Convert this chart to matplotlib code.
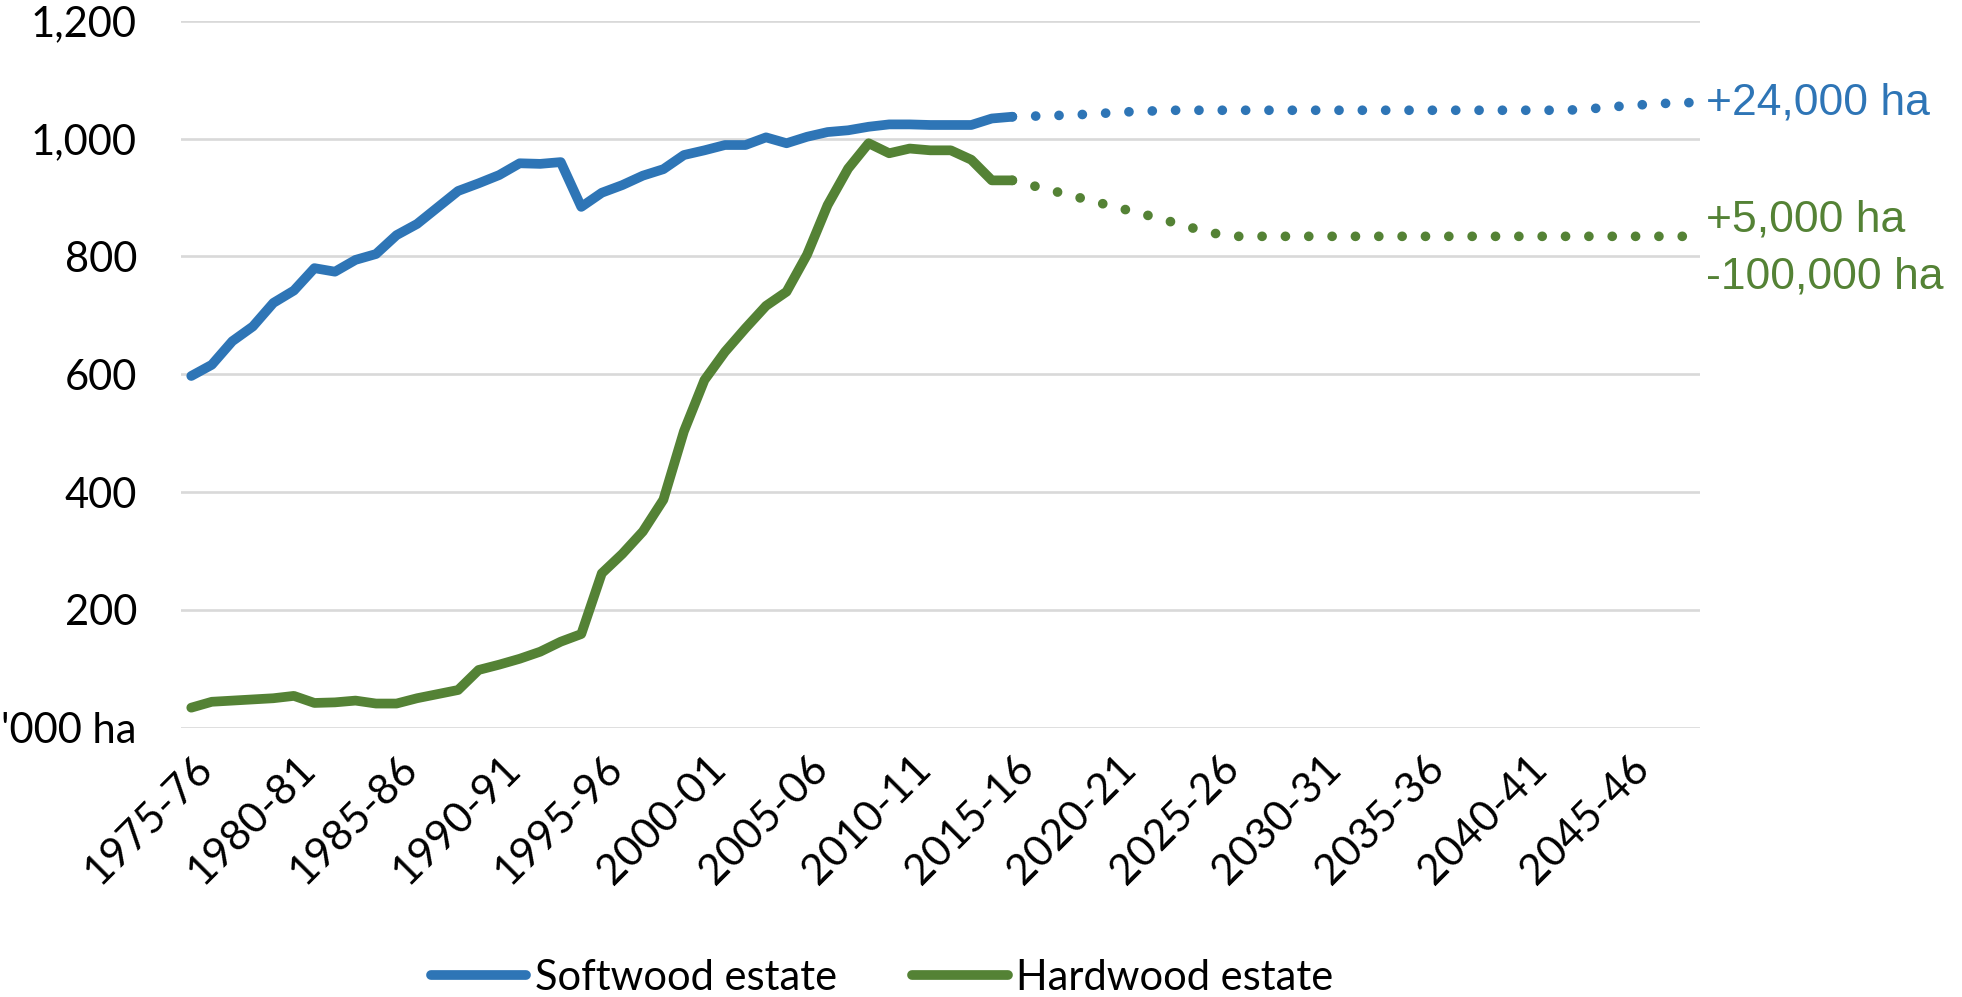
import matplotlib
matplotlib.use("Agg")
import matplotlib.pyplot as plt
import matplotlib.transforms as mtransforms
import numpy as np

# financial years 1975-76 .. 2048-49
years = list(range(1975, 2049))
categories = [f"{y}-{(y + 1) % 100:02d}" for y in years]

# '000 ha, actuals 1975-76 .. 2015-16
softwood = [597, 616, 656, 681, 721, 742, 780, 774, 794, 804,
            836, 855, 883, 911, 924, 938, 958, 957, 960, 884,
            908, 921, 937, 948, 972, 980, 989, 989, 1002, 992,
            1003, 1011, 1014, 1020, 1024, 1024, 1023, 1023, 1023, 1034,
            1037]
hardwood = [34, 44, 46, 48, 50, 54, 42, 43, 46, 41,
            41, 50, 57, 64, 98, 107, 117, 129, 146, 159,
            262, 295, 333, 387, 503, 590, 638, 678, 716, 740,
            803, 887, 949, 992, 975, 983, 980, 980, 964, 929,
            929]

# projections 2015-16 .. 2048-49
softwood_proj = [1037, 1038, 1039, 1040, 1042, 1044, 1046, 1047, 1048, 1048,
                 1048, 1048, 1048, 1048, 1048, 1048, 1048, 1048, 1048, 1048,
                 1048, 1048, 1048, 1048, 1048, 1048, 1048, 1048, 1050, 1053,
                 1056, 1058, 1060, 1061]
hardwood_proj = [929, 920, 911, 902, 893, 884, 875, 866, 856, 846,
                 838, 834, 834, 834, 834, 834, 834, 834, 834, 834,
                 834, 834, 834, 834, 834, 834, 834, 834, 834, 834,
                 834, 834, 834, 834]

ytick_vals = [0, 200, 400, 600, 800, 1000, 1200]
ytick_labels = ["'000 ha", "200", "400", "600", "800", "1,000", "1,200"]

BLUE = "#2E75B6"
GREEN = "#548235"
TICK_FONT = "Lato"
NOTE_FONT = "Liberation Sans"

fig = plt.figure(figsize=(19.62, 9.97), dpi=100)
ax = fig.add_axes([181 / 1962, 1 - 727.7 / 997, (1700 - 181) / 1962, (727.7 - 20.7) / 997])

x_act = np.arange(len(softwood))
x_proj = np.arange(len(softwood) - 1, len(softwood) - 1 + len(softwood_proj))

lw = 7
l1, = ax.plot(x_act, softwood, color=BLUE, lw=lw, solid_capstyle="round", solid_joinstyle="round", zorder=3)
l2, = ax.plot(x_act, hardwood, color=GREEN, lw=lw, solid_capstyle="round", solid_joinstyle="round", zorder=3)
ax.plot(x_proj, softwood_proj, color=BLUE, lw=lw, linestyle=(0, (0.001, 2.4)),
        dash_capstyle="round", zorder=3)
ax.plot(x_proj, hardwood_proj, color=GREEN, lw=lw, linestyle=(0, (0.001, 2.4)),
        dash_capstyle="round", zorder=3)

ax.set_xlim(-0.5, len(categories) - 0.5)
ax.set_ylim(0, 1200)
ax.set_yticks(ytick_vals)
ax.set_yticklabels(ytick_labels, fontsize=30, family=TICK_FONT)
ax.yaxis.grid(True, color="#D9D9D9", lw=1.9)
ax.set_axisbelow(True)
for s in ax.spines.values():
    s.set_visible(False)

xt = list(range(0, len(categories), 5))
ax.set_xticks(xt)
ax.set_xticklabels([categories[i] for i in xt], fontsize=30.5, family=TICK_FONT,
                   rotation=45, ha="right", va="center", rotation_mode="anchor")
ax.tick_params(axis="x", length=0, pad=25)
ax.tick_params(axis="y", length=0, pad=31.7)
shift = mtransforms.ScaledTranslation(0.15, 0, fig.dpi_scale_trans)
for lab in ax.get_xticklabels():
    lab.set_transform(lab.get_transform() + shift)

# end-of-projection notes
ax.annotate("+24,000 ha", xy=(x_proj[-1], softwood_proj[-1]), xytext=(12, 0),
            textcoords="offset points", ha="left", va="center", color=BLUE,
            fontsize=32, family=NOTE_FONT, annotation_clip=False)
ax.annotate("+5,000 ha", xy=(x_proj[-1], hardwood_proj[-1]), xytext=(12, 12),
            textcoords="offset points", ha="left", va="center", color=GREEN,
            fontsize=32, family=NOTE_FONT, annotation_clip=False)
ax.annotate("-100,000 ha", xy=(x_proj[-1], hardwood_proj[-1]), xytext=(12, -29.5),
            textcoords="offset points", ha="left", va="center", color=GREEN,
            fontsize=32, family=NOTE_FONT, annotation_clip=False)

fig.legend([l1, l2], ["Softwood estate", "Hardwood estate"], loc="center",
           bbox_to_anchor=(882 / 1962, 1 - 977.7 / 997), ncol=2, frameon=False,
           handlelength=2.3, handletextpad=0.2, columnspacing=1.8,
           prop={"family": TICK_FONT, "size": 30})

fig.savefig("out.png", dpi=100)
